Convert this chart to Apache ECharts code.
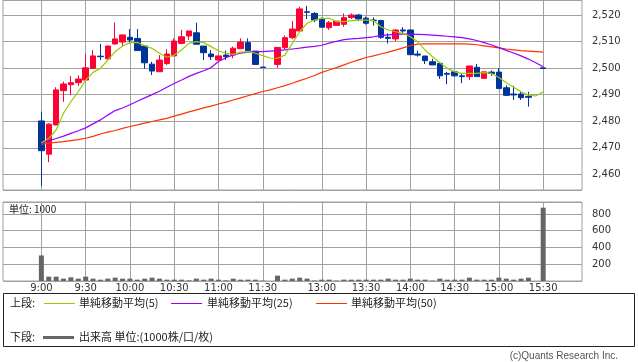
<!DOCTYPE html>
<html><head><meta charset="utf-8">
<script src="https://cdn.jsdelivr.net/npm/echarts@6/dist/echarts.min.js"></script>
<style>html,body{margin:0;padding:0;background:#fff}#c{width:638px;height:362px}</style>
</head><body><div id="c"></div>
<script>
// slot index: 0..30 = 9:00..11:30 (5 min), 31 = break, 32..68 = 12:30..15:30
const tickSlots  = [0, 6, 12, 18, 24, 30, 38, 44, 50, 56, 62, 68];
const tickLabels = ['9:00','9:30','10:00','10:30','11:00','11:30','13:00','13:30','14:00','14:30','15:00','15:30'];

const opens  = [2480.1,2467.6,2478.6,2491.5,2493.75,2494.5,2495.5,2499.9,2504.5,2503.5,2509.1,2509.8,2511.6,2511.2,2508.3,2501.5,2498.65,2501.7,2504.6,2509.3,2512.1,2513.3,2508.3,2505.3,2503.05,2504.9,2504.9,2507.3,2509.6,2506.4,2500.4,null,2501.4,2507.7,2511.45,2514.0,2521.2,2520.6,2518.4,2515.2,2516.1,2516.5,2519.1,2520.0,2518.8,2518.1,2517.9,2511.6,2511.0,2514.35,2514.35,2505.3,2504.55,2502.4,2501.8,2498.0,2498.6,2497.1,2496.8,2500.3,2496.15,2498.5,2498.5,2492.6,2490.25,2490.25,2489.4,null,2500.1];
const closes = [2468.9,2478.9,2491.8,2494.0,2494.5,2495.9,2500.1,2504.6,2504.3,2508.3,2511.0,2512.5,2510.6,2506.6,2502.0,2498.9,2503.05,2505.3,2510.2,2511.8,2514.0,2509.0,2505.8,2504.3,2504.6,2504.3,2507.5,2509.8,2506.6,2501.4,2500.2,null,2507.8,2511.45,2514.7,2522.3,2521.0,2518.1,2515.4,2517.1,2517.7,2519.0,2520.0,2518.5,2516.9,2517.9,2511.6,2511.2,2514.35,2514.0,2505.05,2504.9,2502.8,2501.2,2497.1,2497.7,2497.1,2496.8,2500.8,2496.8,2498.6,2498.0,2492.3,2489.75,2489.9,2488.85,2489.0,null,2499.9];
const lows   = [2455.7,2464.6,2478.5,2487.3,2489.8,2493.3,2495.5,2499.7,2503.0,2503.3,2508.8,2508.1,2509.3,2506.6,2499.8,2497.4,2498.6,2501.2,2504.6,2509.0,2510.6,2509.0,2503.05,2503.05,2503.0,2503.05,2503.7,2507.3,2506.6,2501.2,2500.2,null,2500.15,2507.2,2510.85,2513.7,2518.5,2517.3,2515.4,2514.4,2516.1,2515.6,2518.5,2517.7,2516.4,2516.0,2511.0,2509.3,2510.2,2513.1,2505.05,2504.3,2501.55,2501.2,2495.9,2493.9,2496.8,2494.3,2495.5,2496.8,2496.15,2497.1,2492.3,2489.5,2488.0,2488.0,2485.5,null,2499.9];
const highs  = [2483.6,2479.2,2492.8,2494.9,2497.0,2497.3,2505.3,2506.8,2509.1,2508.6,2517.2,2512.5,2514.7,2514.7,2508.3,2502.4,2504.9,2507.1,2511.2,2514.4,2514.0,2517.1,2508.3,2506.8,2504.6,2506.6,2508.1,2511.2,2511.2,2506.4,2500.4,null,2507.8,2512.3,2517.7,2523.1,2523.4,2521.1,2519.1,2517.7,2517.7,2520.6,2520.6,2520.4,2519.4,2519.1,2518.2,2513.1,2514.7,2515.4,2514.6,2506.6,2504.6,2503.5,2501.8,2498.6,2498.6,2498.0,2500.8,2501.55,2498.6,2499.1,2500.0,2493.5,2493.3,2491.0,2491.1,null,2500.1];
const volumes = [305,52,52,28,44,28,52,28,16,28,40,28,28,16,28,40,28,16,16,16,8,28,16,28,16,8,28,16,16,16,5,null,64,16,28,40,28,6,16,16,5,16,16,16,16,16,16,28,16,16,28,16,16,5,28,16,16,16,40,16,16,16,40,28,16,28,40,null,875];
const ma5  = [2471.9,2473.5,2476.7,2483.0,2487.35,2491.1,2495.5,2498.4,2499.9,2503.05,2506.2,2508.3,2509.6,2509.7,2508.4,2507.45,2505.6,2504.1,2504.9,2506.8,2509.3,2509.95,2509.6,2508.1,2506.55,2505.6,2505.2,2506.0,2506.2,2505.6,2504.7,2503.8,2503.7,2504.9,2509.3,2513.7,2516.9,2518.1,2518.75,2518.75,2517.5,2517.5,2517.9,2518.1,2518.1,2517.9,2515.6,2514.35,2513.7,2513.1,2511.8,2509.95,2506.8,2504.3,2502.0,2499.9,2498.6,2498.0,2498.0,2498.0,2498.3,2498.0,2496.5,2494.5,2492.8,2491.1,2489.9,2489.5,2491.1];
const ma25 = [2471.8,2472.6,2473.5,2474.4,2475.4,2476.4,2477.5,2479.0,2480.5,2482.3,2484.0,2485.0,2486.2,2487.5,2488.8,2490.0,2491.3,2492.8,2494.2,2495.5,2496.9,2498.0,2499.0,2500.2,2502.5,2503.9,2505.0,2505.6,2506.0,2506.2,2506.2,2506.4,2506.6,2506.9,2507.2,2507.5,2507.9,2508.2,2508.6,2509.4,2510.1,2510.7,2511.0,2511.2,2511.5,2511.8,2512.2,2512.5,2512.7,2512.8,2512.8,2512.7,2512.6,2512.4,2512.2,2512.0,2511.8,2511.5,2511.0,2510.4,2509.6,2508.7,2507.7,2506.7,2505.7,2504.6,2503.4,2502.0,2500.5];
const ma50 = [2471.4,2471.7,2472.0,2472.3,2472.7,2473.1,2473.6,2474.3,2475.2,2475.9,2476.5,2477.3,2478.0,2478.6,2479.3,2479.9,2480.5,2481.1,2481.9,2482.7,2483.5,2484.3,2485.0,2485.7,2486.5,2487.2,2488.0,2488.8,2489.6,2490.4,2491.2,2491.8,2492.6,2493.4,2494.3,2495.3,2496.2,2497.2,2498.4,2499.3,2500.2,2501.2,2502.2,2503.1,2504.0,2504.6,2505.3,2506.0,2506.8,2507.6,2508.5,2509.0,2509.1,2509.1,2509.1,2509.1,2509.1,2509.1,2509.0,2508.8,2508.4,2508.0,2507.6,2507.2,2506.9,2506.6,2506.4,2506.2,2506.0];

const candleData = [], volData = [];
opens.forEach((o, i) => { if (o != null) candleData.push([i, o, closes[i], lows[i], highs[i]]); });
volumes.forEach((v, i) => { if (v != null) volData.push([i, v]); });
const pairs = arr => arr.map((v, i) => [i, v]);

const FONT = 'DejaVu Sans';
const JP = '"Noto Sans CJK JP", "DejaVu Sans"';
const GRID_C = '#a0a0a0';
const fmtComma = v => String(Math.round(v)).replace(/\B(?=(\d{3})+(?!\d))/g, ',');

const xCommon = {
  type: 'value', min: -5.2, max: 73.26,
  axisLine: {show: false},
  axisTick: {show: false, customValues: tickSlots},
  splitLine: {show: true, lineStyle: {color: GRID_C, width: 1}}
};

const chart = echarts.init(document.getElementById('c'), null, {renderer: 'canvas'});
chart.setOption({
  animation: false,
  backgroundColor: '#fff',
  grid: [
    {left: 3, top: 0, width: 579, height: 190, show: true, borderColor: GRID_C, borderWidth: 1},
    {left: 3, top: 202, width: 579, height: 79, show: true, borderColor: GRID_C, borderWidth: 1}
  ],
  xAxis: [
    Object.assign({gridIndex: 0, axisLabel: {show: false, customValues: tickSlots}}, xCommon),
    Object.assign({gridIndex: 1, axisLabel: {show: true, customValues: tickSlots, margin: 2,
      fontFamily: FONT, fontSize: 10, color: '#333',
      formatter: v => { const k = tickSlots.indexOf(Math.round(v)); return k >= 0 ? tickLabels[k] : ''; }}}, xCommon)
  ],
  yAxis: [
    {gridIndex: 0, type: 'value', position: 'right', min: 2454.1, max: 2525.65, splitNumber: 7,
     axisLine: {show: false}, axisTick: {show: false},
     splitLine: {lineStyle: {color: GRID_C}},
     axisLabel: {margin: 10, fontFamily: FONT, fontSize: 10, color: '#333',
       formatter: v => (Math.abs(v % 10) < 1e-6 ? fmtComma(v) : '')}},
    {gridIndex: 1, type: 'value', position: 'right', min: 0, max: 943, interval: 200,
     axisLine: {show: false}, axisTick: {show: false},
     splitLine: {lineStyle: {color: GRID_C}},
     axisLabel: {margin: 10, fontFamily: FONT, fontSize: 10, color: '#333',
       formatter: v => (v > 0 && v % 200 === 0 ? String(v) : '')}}
  ],
  series: [
    {type: 'candlestick', xAxisIndex: 0, yAxisIndex: 0, barWidth: 6,
     dimensions: ['slot', 'open', 'close', 'lowest', 'highest'],
     encode: {x: 'slot', y: ['open', 'close', 'lowest', 'highest']},
     data: candleData,
     itemStyle: {color: '#ff0033', color0: '#003399', borderColor: '#ff0033', borderColor0: '#003399', borderWidth: 1}},
    {type: 'line', xAxisIndex: 0, yAxisIndex: 0, data: pairs(ma50), showSymbol: false, symbol: 'none',
     lineStyle: {color: '#ff3300', width: 1.2}, z: 3},
    {type: 'line', xAxisIndex: 0, yAxisIndex: 0, data: pairs(ma25), showSymbol: false, symbol: 'none',
     lineStyle: {color: '#9900ff', width: 1.2}, z: 3},
    {type: 'line', xAxisIndex: 0, yAxisIndex: 0, data: pairs(ma5), showSymbol: false, symbol: 'none',
     lineStyle: {color: '#99cc00', width: 1.2}, z: 3},
    {type: 'bar', xAxisIndex: 1, yAxisIndex: 1, data: volData, barWidth: 5,
     itemStyle: {color: '#666666'}}
  ],
  graphic: [
    {type: 'text', x: 9, y: 209, style: {text: '単位: 1000', font: '10px ' + JP, fill: '#222', verticalAlign: 'middle'}},
    {type: 'rect', shape: {x: 3.5, y: 293.5, width: 631, height: 53}, style: {fill: 'none', stroke: '#222', lineWidth: 1}},
    {type: 'text', x: 10, y: 303, style: {text: '上段:', font: '11px ' + JP, fill: '#222', verticalAlign: 'middle'}},
    {type: 'line', shape: {x1: 44, y1: 303.5, x2: 75, y2: 303.5}, style: {stroke: '#99cc00', lineWidth: 1}},
    {type: 'text', x: 79, y: 303, style: {text: '単純移動平均(5)', font: '11px ' + JP, fill: '#222', verticalAlign: 'middle'}},
    {type: 'line', shape: {x1: 171, y1: 303.5, x2: 202, y2: 303.5}, style: {stroke: '#9900ff', lineWidth: 1}},
    {type: 'text', x: 207, y: 303, style: {text: '単純移動平均(25)', font: '11px ' + JP, fill: '#222', verticalAlign: 'middle'}},
    {type: 'line', shape: {x1: 316, y1: 303.5, x2: 347, y2: 303.5}, style: {stroke: '#ff3300', lineWidth: 1}},
    {type: 'text', x: 351, y: 303, style: {text: '単純移動平均(50)', font: '11px ' + JP, fill: '#222', verticalAlign: 'middle'}},
    {type: 'text', x: 10, y: 337, style: {text: '下段:', font: '11px ' + JP, fill: '#222', verticalAlign: 'middle'}},
    {type: 'line', shape: {x1: 43, y1: 337.5, x2: 74, y2: 337.5}, style: {stroke: '#666666', lineWidth: 3}},
    {type: 'text', x: 79, y: 337, style: {text: '出来高 単位:(1000株/口/枚)', font: '11px ' + JP, fill: '#222', verticalAlign: 'middle'}},
    {type: 'text', x: 618, y: 356, style: {text: '(c)Quants Research Inc.', font: '10px "Liberation Sans"', fill: '#555', align: 'right', verticalAlign: 'middle'}}
  ]
});
</script>
</body></html>
